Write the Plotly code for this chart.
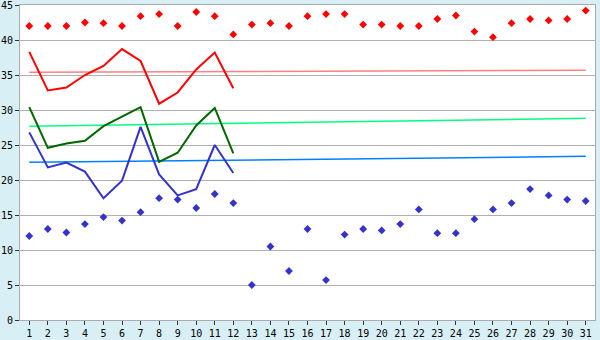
import plotly.graph_objects as go

days = list(range(1, 32))
days_line = list(range(1, 13))

red_points = [42.0, 42.0, 42.0, 42.5, 42.4, 42.0, 43.4, 43.7, 42.0, 44.0,
              43.4, 40.8, 42.2, 42.4, 42.0, 43.4, 43.7, 43.7, 42.2, 42.2,
              42.0, 42.0, 43.0, 43.5, 41.2, 40.4, 42.4, 43.0, 42.8, 43.0, 44.2]
blue_points = [12.0, 13.0, 12.5, 13.7, 14.7, 14.2, 15.4, 17.4, 17.2, 16.0,
               18.0, 16.7, 5.0, 10.5, 7.0, 13.0, 5.7, 12.2, 13.0, 12.8,
               13.7, 15.8, 12.4, 12.4, 14.4, 15.8, 16.7, 18.7, 17.8, 17.2, 17.0]
red_line = [38.3, 32.8, 33.2, 35.0, 36.3, 38.7, 37.0, 30.9, 32.5, 35.8, 38.2, 33.1]
green_line = [30.4, 24.6, 25.2, 25.6, 27.7, 29.0, 30.4, 22.6, 23.9, 27.8, 30.3, 23.8]
blue_line = [26.8, 21.8, 22.5, 21.2, 17.4, 19.9, 27.6, 20.8, 17.8, 18.7, 25.0, 21.0]

trend_x = [1, 31]
pink_trend = [35.38, 35.67]
lightgreen_trend = [27.67, 28.81]
lightblue_trend = [22.52, 23.38]

fig = go.Figure()
fig.add_trace(go.Scatter(x=trend_x, y=pink_trend, mode="lines",
                         line=dict(color="#ff8080", width=1.5)))
fig.add_trace(go.Scatter(x=trend_x, y=lightgreen_trend, mode="lines",
                         line=dict(color="#00ff80", width=1.5)))
fig.add_trace(go.Scatter(x=trend_x, y=lightblue_trend, mode="lines",
                         line=dict(color="#0080ff", width=1.5)))
fig.add_trace(go.Scatter(x=days_line, y=red_line, mode="lines",
                         line=dict(color="#ff0000", width=2)))
fig.add_trace(go.Scatter(x=days_line, y=green_line, mode="lines",
                         line=dict(color="#006600", width=2)))
fig.add_trace(go.Scatter(x=days_line, y=blue_line, mode="lines",
                         line=dict(color="#3333cc", width=2)))
fig.add_trace(go.Scatter(x=days, y=red_points, mode="markers",
                         marker=dict(color="#ff0000", symbol="diamond", size=6)))
fig.add_trace(go.Scatter(x=days, y=blue_points, mode="markers",
                         marker=dict(color="#3333cc", symbol="diamond", size=6)))

fig.update_layout(
    width=600, height=340,
    margin=dict(l=20, r=5, t=5, b=20, autoexpand=False),
    paper_bgcolor="#d8eff6",
    plot_bgcolor="#ffffff",
    showlegend=False,
    font=dict(family="DejaVu Sans Mono", size=10, color="#000000"),
)
fig.update_xaxes(range=[0.5, 31.5], tickvals=days, ticktext=[str(d) for d in days],
                 showgrid=False, zeroline=False, showline=True, linecolor="#aaaaaa",
                 linewidth=1, mirror=True, ticks="outside", ticklen=4,
                 tickcolor="#333333", tickfont=dict(size=10), automargin=False,
                 ticklabeloverflow="allow")
fig.update_yaxes(range=[0, 45], dtick=5, showgrid=True, gridcolor="#b0b0b0",
                 gridwidth=1, zeroline=False, showline=True, linecolor="#aaaaaa",
                 linewidth=1, mirror=True, ticks="outside", ticklen=4,
                 tickcolor="#333333", tickfont=dict(size=10), automargin=False,
                 ticklabeloverflow="allow")

fig.write_html("out.html")
